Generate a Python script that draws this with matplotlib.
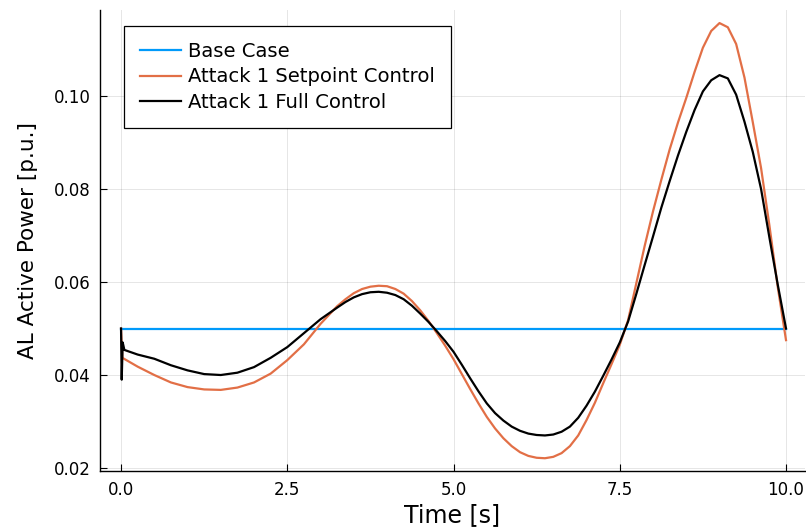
import matplotlib
matplotlib.use("Agg")

import matplotlib.pyplot as plt


# simulation output, time in [s], power in [p.u.]
base_time = [0.0, 10.0]
base_power = [0.050, 0.050]

setpoint_time = [
    0.0, 0.02, 0.25, 0.5, 0.75, 1.0, 1.25, 1.5, 1.75, 2.0,
    2.25, 2.5, 2.75, 3.0, 3.25, 3.375, 3.5, 3.625, 3.75, 3.875,
    4.0, 4.125, 4.25, 4.375, 4.5, 4.625, 4.75, 4.875, 5.0, 5.125,
    5.25, 5.375, 5.5, 5.625, 5.75, 5.875, 6.0, 6.125, 6.25, 6.375,
    6.5, 6.625, 6.75, 6.875, 7.0, 7.125, 7.25, 7.375, 7.5, 7.625,
    7.75, 7.875, 8.0, 8.125, 8.25, 8.375, 8.5, 8.625, 8.75, 8.875,
    9.0, 9.125, 9.25, 9.375, 9.5, 9.625, 9.75, 9.875, 10.0,
]
setpoint_power = [
    0.0500, 0.0437, 0.0418, 0.0400, 0.0384, 0.0374, 0.0369, 0.0368, 0.0373, 0.0384,
    0.0403, 0.0432, 0.0466, 0.0510, 0.0548, 0.0563, 0.0576, 0.0585, 0.0590, 0.0592,
    0.0591, 0.0585, 0.0575, 0.0559, 0.0539, 0.0516, 0.0490, 0.0463, 0.0434, 0.0402,
    0.0370, 0.0339, 0.0310, 0.0285, 0.0264, 0.0247, 0.0234, 0.0226, 0.0222, 0.0221,
    0.0224, 0.0232, 0.0247, 0.0270, 0.0303, 0.0340, 0.0382, 0.0423, 0.0465, 0.0518,
    0.0598, 0.0678, 0.0752, 0.0820, 0.0885, 0.0943, 0.0996, 0.1052, 0.1104, 0.1140,
    0.1157, 0.1148, 0.1112, 0.1040, 0.0944, 0.0845, 0.0722, 0.0590, 0.0475,
]

full_time = [
    0.0, 0.01, 0.025, 0.05, 0.25, 0.5, 0.75, 1.0, 1.25, 1.5,
    1.75, 2.0, 2.25, 2.5, 2.75, 3.0, 3.25, 3.375, 3.5, 3.625,
    3.75, 3.875, 4.0, 4.125, 4.25, 4.375, 4.5, 4.625, 4.75, 4.875,
    5.0, 5.125, 5.25, 5.375, 5.5, 5.625, 5.75, 5.875, 6.0, 6.125,
    6.25, 6.375, 6.5, 6.625, 6.75, 6.875, 7.0, 7.125, 7.25, 7.375,
    7.5, 7.625, 7.75, 7.875, 8.0, 8.125, 8.25, 8.375, 8.5, 8.625,
    8.75, 8.875, 9.0, 9.125, 9.25, 9.375, 9.5, 9.625, 9.75, 9.875,
    10.0,
]
full_power = [
    0.0500, 0.0390, 0.0470, 0.0454, 0.0444, 0.0435, 0.0421, 0.0410, 0.0402, 0.0400,
    0.0405, 0.0417, 0.0437, 0.0460, 0.0490, 0.0520, 0.0545, 0.0557, 0.0567, 0.0574,
    0.0578, 0.0579, 0.0577, 0.0572, 0.0563, 0.0549, 0.0532, 0.0514, 0.0494, 0.0473,
    0.0450, 0.0422, 0.0393, 0.0365, 0.0339, 0.0318, 0.0302, 0.0289, 0.0280, 0.0274,
    0.0271, 0.0270, 0.0272, 0.0278, 0.0289, 0.0308, 0.0334, 0.0364, 0.0398, 0.0433,
    0.0470, 0.0515, 0.0575, 0.0637, 0.0698, 0.0760, 0.0817, 0.0872, 0.0923, 0.0970,
    0.1010, 0.1034, 0.1045, 0.1038, 0.1003, 0.0945, 0.0880, 0.0800, 0.0696, 0.0595,
    0.0500,
]

x_ticks = [0.0, 2.5, 5.0, 7.5, 10.0]
y_ticks = [0.02, 0.04, 0.06, 0.08, 0.10]


def main():
    fig = plt.figure(figsize=(8.06, 5.29), dpi=100)
    ax = fig.add_axes([0.1241, 0.1096, 0.8747, 0.8714])

    ax.plot(base_time, base_power, color="#009AFA", lw=1.6, label="Base Case")
    ax.plot(setpoint_time, setpoint_power, color="#E26F46", lw=1.6,
            label="Attack 1 Setpoint Control")
    ax.plot(full_time, full_power, color="black", lw=1.6,
            label="Attack 1 Full Control")

    ax.set_xlim(-0.316, 10.286)
    ax.set_ylim(0.01935, 0.1185)
    ax.set_xticks(x_ticks)
    ax.set_xticklabels([f"{t:.1f}" for t in x_ticks])
    ax.set_yticks(y_ticks)
    ax.set_yticklabels([f"{v:.2f}" for v in y_ticks])

    ax.grid(True, color="black", alpha=0.1, lw=0.7)
    ax.set_axisbelow(True)
    for side in ("top", "right"):
        ax.spines[side].set_visible(False)
    for side in ("left", "bottom"):
        ax.spines[side].set_linewidth(1.0)
    ax.tick_params(direction="in", length=5, width=0.8, labelsize=12, pad=7)

    ax.set_xlabel("Time [s]", fontsize=17, labelpad=3)
    ax.set_ylabel("AL Active Power [p.u.]", fontsize=15.5, labelpad=11)

    leg = ax.legend(
        loc="upper left",
        bbox_to_anchor=(0.034, 0.966),
        fontsize=14.1,
        frameon=True,
        fancybox=False,
        edgecolor="black",
        framealpha=1.0,
        handlelength=2.1,
        handletextpad=0.35,
        labelspacing=0.34,
        borderpad=0.82,
        borderaxespad=0.0,
    )
    leg.get_frame().set_linewidth(0.9)

    fig.savefig("out.png", dpi=100)
    plt.close(fig)


if __name__ == "__main__":
    main()
